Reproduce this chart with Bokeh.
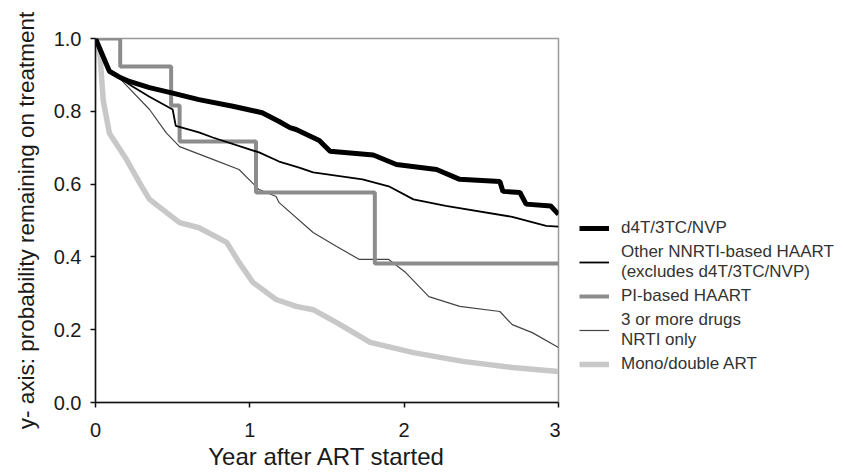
from bokeh.plotting import figure
from bokeh.models import Legend, LegendItem, FixedTicker, NumeralTickFormatter
from bokeh.layouts import row
from bokeh.embed import file_html
from bokeh.resources import INLINE

# ---- data ----
d4t_t = [0, 0.02, 0.05, 0.09, 0.15, 0.22, 0.35, 0.5, 0.67, 0.89, 1.08, 1.19, 1.26, 1.30, 1.45, 1.52,
         1.80, 1.95, 2.21, 2.36, 2.62, 2.64, 2.75, 2.79, 2.95, 3.0]
d4t_s = [1.0, 0.98, 0.95, 0.91, 0.895, 0.882, 0.865, 0.85, 0.832, 0.814, 0.796, 0.772, 0.755, 0.75, 0.72, 0.69,
         0.68, 0.654, 0.64, 0.613, 0.607, 0.58, 0.577, 0.545, 0.54, 0.517]

nnrti_t = [0, 0.03, 0.09, 0.24, 0.35, 0.5, 0.52, 0.67, 0.76, 1.06, 1.19, 1.32, 1.41, 1.73, 1.90, 2.06,
           2.27, 2.7, 2.92, 3.0]
nnrti_s = [1.0, 0.96, 0.91, 0.868, 0.84, 0.805, 0.76, 0.742, 0.728, 0.687, 0.662, 0.645, 0.632, 0.613, 0.594, 0.558,
           0.54, 0.51, 0.485, 0.483]

pi_t = [0, 0.16, 0.49, 0.545, 1.04, 1.81, 3.0]
pi_s = [1.0, 0.923, 0.816, 0.717, 0.577, 0.382, 0.382]

nrti_t = [0, 0.03, 0.08, 0.18, 0.35, 0.46, 0.545, 0.76, 0.93, 1.06, 1.17, 1.19, 1.41, 1.56, 1.71, 1.9,
          2.01, 2.16, 2.36, 2.62, 2.7, 2.83, 3.0]
nrti_s = [1.0, 0.96, 0.92, 0.88, 0.805, 0.74, 0.703, 0.668, 0.64, 0.585, 0.566, 0.549, 0.467, 0.429, 0.393, 0.393,
          0.357, 0.291, 0.264, 0.25, 0.214, 0.192, 0.151]

mono_t = [0, 0.02, 0.03, 0.05, 0.09, 0.2, 0.3, 0.35, 0.545, 0.67, 0.85, 0.93, 1.02, 1.17, 1.3, 1.41,
          1.56, 1.78, 2.06, 2.38, 2.7, 3.0]
mono_s = [1.0, 0.97, 0.95, 0.83, 0.74, 0.668, 0.593, 0.558, 0.494, 0.48, 0.44, 0.385, 0.33, 0.283, 0.264, 0.255,
          0.22, 0.165, 0.137, 0.113, 0.096, 0.085]

x_ticks = [0, 1, 2, 3]
y_ticks = [0.0, 0.2, 0.4, 0.6, 0.8, 1.0]

labels = ["d4T/3TC/NVP",
          "Other NNRTI-based HAART\n(excludes d4T/3TC/NVP)",
          "PI-based HAART",
          "3 or more drugs\nNRTI only",
          "Mono/double ART"]

# series styles: (colour, width)
styles = [("#000000", 5), ("#000000", 1.8), ("#8c8c8c", 4), ("#444444", 1.2), ("#c8c8c8", 5.5)]

FONT = "Liberation Sans"
H = 473

p = figure(width=560, height=H, output_backend="svg", toolbar_location=None,
           x_range=(0, 3), y_range=(0, 1),
           min_border_left=95, min_border_right=2, min_border_top=38, min_border_bottom=71)
p.grid.visible = False
p.outline_line_color = "#999999"
p.outline_line_width = 1.5
p.background_fill_color = "white"
p.border_fill_color = "white"

for ax in (p.xaxis, p.yaxis):
    ax.axis_line_color = "#111111"
    ax.axis_line_width = 1.5
    ax.major_tick_line_color = "#111111"
    ax.major_tick_line_width = 1.5
    ax.major_tick_out = 5
    ax.major_tick_in = 0
    ax.minor_tick_line_color = None
    ax.major_label_text_font = FONT
    ax.major_label_text_font_size = "20px"
    ax.major_label_text_color = "#1a1a1a"
    ax.axis_label_text_font = FONT
    ax.axis_label_text_font_style = "normal"
    ax.axis_label_text_color = "#1a1a1a"

p.xaxis.ticker = FixedTicker(ticks=x_ticks)
p.yaxis.ticker = FixedTicker(ticks=y_ticks)
p.yaxis.formatter = NumeralTickFormatter(format="0.0")
p.yaxis.major_label_standoff = 9
p.xaxis.major_label_standoff = 15
p.xaxis.axis_label = "Year after ART started"
p.xaxis.axis_label_text_font_size = "24px"
p.xaxis.axis_label_text_line_height = 0.8
p.xaxis.axis_label_standoff = 3
p.yaxis.axis_label = "y- axis: probability remaining on treatment"
p.yaxis.axis_label_text_font_size = "22.5px"
p.yaxis.axis_label_standoff = 12

p.line(mono_t, mono_s, line_color=styles[4][0], line_width=styles[4][1])
p.line(nrti_t, nrti_s, line_color=styles[3][0], line_width=styles[3][1])
p.step(pi_t, pi_s, mode="after", line_color=styles[2][0], line_width=styles[2][1])
p.line(nnrti_t, nnrti_s, line_color=styles[1][0], line_width=styles[1][1])
p.line(d4t_t, d4t_s, line_color=styles[0][0], line_width=styles[0][1])

# legend panel (separate figure so the legend is not clipped by the main frame)
q = figure(width=282, height=H, output_backend="svg", toolbar_location=None,
           x_range=(0, 1), y_range=(0, 1), min_border=0)
q.axis.visible = False
q.grid.visible = False
q.outline_line_color = None
q.border_fill_color = "white"

items = []
for lab, (col, w) in zip(labels, styles):
    # off-range helper line: only its style is shown, as the legend sample
    r = q.line([0, 1], [-5, -5], line_color=col, line_width=w)
    items.append(LegendItem(label=lab, renderers=[r]))

legend = Legend(items=items, location=(19, 28))
legend.label_text_font = FONT
legend.label_text_font_size = "17px"
legend.label_text_line_height = 1.05
legend.label_text_color = "#333333"
legend.label_height = 20
legend.label_standoff = 12
legend.glyph_width = 30
legend.spacing = 4
legend.padding = 0
legend.margin = 0
legend.border_line_color = None
legend.background_fill_alpha = 0
q.add_layout(legend, "center")

layout = row(p, q)
open("out.html", "w").write(file_html(layout, INLINE))
